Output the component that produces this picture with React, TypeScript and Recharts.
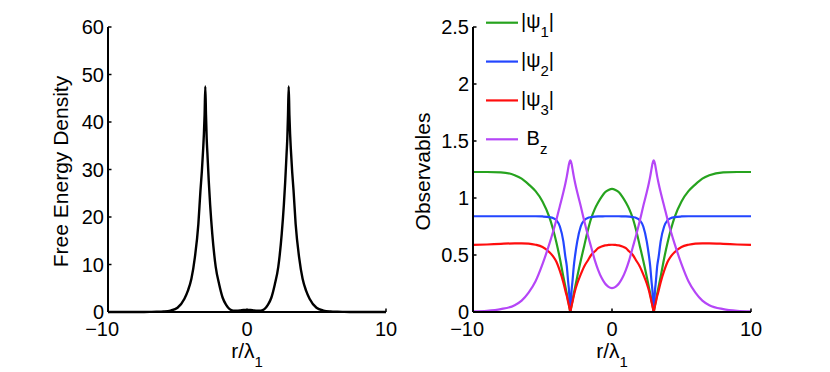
import React from 'react';
import { LineChart, Line, XAxis, YAxis, Legend } from 'recharts';

const rValues = [
  -10, -9, -8, -7, -6.5, -6, -5.5, -5, -4.5, -4.25, -4, -3.75, -3.5, -3.35, -3.25, -3.15, -3.1, -3.05, -3, -2.95,
  -2.9, -2.85, -2.75, -2.65, -2.5, -2.25, -2, -1.75, -1.5, -1.25, -1, -0.75, -0.5, -0.25,
  0,
  0.25, 0.5, 0.75, 1, 1.25, 1.5, 1.75, 2, 2.25, 2.5, 2.65, 2.75, 2.85, 2.9, 2.95, 3, 3.05, 3.1, 3.15, 3.25,
  3.35, 3.5, 3.75, 4, 4.25, 4.5, 5, 5.5, 6, 6.5, 7, 8, 9, 10,
];

const freeEnergy = [
  0, 0, 0, 0.02, 0.04, 0.1, 0.3, 0.9, 2.8, 4.5, 7.0, 11.5, 18.5, 25.5, 29.5, 34.5, 37.5, 41.5, 47.5, 41.5,
  36.5, 33.5, 27.5, 22.5, 16.5, 9.5, 5.8, 3.0, 1.5, 0.6, 0.3, 0.27, 0.32, 0.42,
  0.45,
  0.42, 0.32, 0.27, 0.3, 0.6, 1.5, 3.0, 5.8, 9.5, 16.5, 22.5, 27.5, 33.5, 36.5, 41.5, 47.5, 41.5, 37.5, 34.5, 29.5,
  25.5, 18.5, 11.5, 7.0, 4.5, 2.8, 0.9, 0.3, 0.1, 0.04, 0.02, 0, 0, 0,
];

const psi1 = [
  1.228, 1.228, 1.225, 1.2, 1.17, 1.12, 1.06, 0.97, 0.83, 0.73, 0.61, 0.47, 0.31, 0.22, 0.16, 0.095, 0.065, 0.033, 0, 0.033,
  0.065, 0.095, 0.16, 0.22, 0.31, 0.45, 0.58, 0.71, 0.82, 0.9, 0.96, 1.01, 1.05, 1.07,
  1.08,
  1.07, 1.05, 1.01, 0.96, 0.9, 0.82, 0.71, 0.58, 0.45, 0.31, 0.22, 0.16, 0.095, 0.065, 0.033, 0, 0.033, 0.065, 0.095, 0.16,
  0.22, 0.31, 0.47, 0.61, 0.73, 0.83, 0.97, 1.06, 1.12, 1.17, 1.2, 1.225, 1.228, 1.228,
];

const psi2 = [
  0.84, 0.84, 0.84, 0.84, 0.84, 0.84, 0.84, 0.838, 0.832, 0.825, 0.805, 0.75, 0.62, 0.48, 0.4, 0.26, 0.2, 0.1, 0, 0.1,
  0.2, 0.26, 0.4, 0.5, 0.62, 0.75, 0.805, 0.825, 0.832, 0.836, 0.838, 0.839, 0.84, 0.84,
  0.84,
  0.84, 0.84, 0.839, 0.838, 0.836, 0.832, 0.825, 0.805, 0.75, 0.62, 0.5, 0.4, 0.26, 0.2, 0.1, 0, 0.1, 0.2, 0.26, 0.4,
  0.48, 0.62, 0.75, 0.805, 0.825, 0.832, 0.838, 0.84, 0.84, 0.84, 0.84, 0.84, 0.84, 0.84,
];

const psi3 = [
  0.588, 0.592, 0.598, 0.602, 0.602, 0.6, 0.59, 0.57, 0.525, 0.49, 0.44, 0.36, 0.26, 0.185, 0.14, 0.085, 0.058, 0.03, 0, 0.03,
  0.058, 0.085, 0.14, 0.19, 0.25, 0.33, 0.4, 0.45, 0.5, 0.53, 0.56, 0.575, 0.585, 0.588,
  0.59,
  0.588, 0.585, 0.575, 0.56, 0.53, 0.5, 0.45, 0.4, 0.33, 0.25, 0.19, 0.14, 0.085, 0.058, 0.03, 0, 0.03, 0.058, 0.085, 0.14,
  0.185, 0.26, 0.36, 0.44, 0.49, 0.525, 0.57, 0.59, 0.6, 0.602, 0.602, 0.598, 0.592, 0.588,
];

const bz = [
  0.005, 0.01, 0.025, 0.06, 0.1, 0.17, 0.27, 0.42, 0.6, 0.7, 0.81, 0.93, 1.05, 1.13, 1.19, 1.26, 1.295, 1.318, 1.33, 1.318,
  1.295, 1.26, 1.19, 1.13, 1.05, 0.93, 0.8, 0.68, 0.57, 0.46, 0.37, 0.3, 0.25, 0.22,
  0.21,
  0.22, 0.25, 0.3, 0.37, 0.46, 0.57, 0.68, 0.8, 0.93, 1.05, 1.13, 1.19, 1.26, 1.295, 1.318, 1.33, 1.318, 1.295, 1.26, 1.19,
  1.13, 1.05, 0.93, 0.81, 0.7, 0.6, 0.42, 0.27, 0.17, 0.1, 0.06, 0.025, 0.01, 0.005,
];

const xTicks = [-10, 0, 10];
const leftYTicks = [0, 10, 20, 30, 40, 50, 60];
const rightYTicks = [0, 0.5, 1, 1.5, 2, 2.5];

const seriesKeys = ['psi1', 'psi2', 'psi3', 'bz'];
const seriesColors = ['#26a31e', '#2346ff', '#ff0d0d', '#b546f7'];
const legendMain = ['|\u03c8', '|\u03c8', '|\u03c8', '\u00a0B'];
const legendSub = ['1', '2', '3', 'z'];
const legendTail = ['|', '|', '|', ''];

const leftYTitle = 'Free Energy Density';
const rightYTitle = 'Observables';
const xTitleMain = 'r/\u03bb';
const xTitleSub = '1';

const data = rValues.map((r, i) => ({
  r,
  fe: freeEnergy[i],
  psi1: psi1[i],
  psi2: psi2[i],
  psi3: psi3[i],
  bz: bz[i],
}));

const FONT = '"Liberation Sans", Arial, Helvetica, sans-serif';
const TICK_FS = 20;
const TITLE_FS = 21;

const XTick = (props: any) => {
  const { x, y, payload } = props;
  const v = payload.value as number;
  const digits = String(Math.abs(v));
  const half = (digits.length * 0.556 * TICK_FS) / 2;
  const minusW = 0.584 * TICK_FS;
  const axisY = y - 10;
  return (
    <g>
      <line x1={x} x2={x} y1={axisY} y2={axisY - 3.5} stroke="#000" strokeWidth={1.5} />
      {v < 0 ? (
        <text x={x - half - minusW} y={y} dy="0.71em" textAnchor="start" fontSize={TICK_FS} fontFamily={FONT} fill="#000">
          {'\u2212' + digits}
        </text>
      ) : (
        <text x={x} y={y} dy="0.71em" textAnchor="middle" fontSize={TICK_FS} fontFamily={FONT} fill="#000">
          {digits}
        </text>
      )}
    </g>
  );
};

const YTick = (props: any) => {
  const { x, y, payload } = props;
  const axisX = x + 4;
  return (
    <g>
      <line x1={axisX} x2={axisX + 3.5} y1={y} y2={y} stroke="#000" strokeWidth={1.5} />
      <text x={x} y={y} dy="0.355em" textAnchor="end" fontSize={TICK_FS} fontFamily={FONT} fill="#000">
        {String(payload.value)}
      </text>
    </g>
  );
};

const YTitle = (props: any) => {
  const { viewBox, text, bx } = props;
  const cy = viewBox && typeof viewBox.y === 'number' ? viewBox.y + viewBox.height / 2 : 169.5;
  return (
    <text
      transform={`translate(${bx},${cy + 2}) rotate(-90)`}
      textAnchor="middle"
      fontSize={TITLE_FS}
      fontFamily={FONT}
      fill="#000"
    >
      {text}
    </text>
  );
};

const XTitle = (props: any) => {
  const { viewBox } = props;
  const cx = viewBox && typeof viewBox.x === 'number' ? viewBox.x + viewBox.width / 2 : 247;
  const by = viewBox && typeof viewBox.y === 'number' ? viewBox.y + 46 : 358;
  return (
    <text x={cx} y={by} textAnchor="middle" fontSize={TITLE_FS} fontFamily={FONT} fill="#000">
      {xTitleMain}
      <tspan fontSize={15} dy={8.5}>
        {xTitleSub}
      </tspan>
    </text>
  );
};

const renderLegend = () => (
  <svg width={120} height={160} style={{ display: 'block', overflow: 'visible' }}>
    {seriesKeys.map((k, i) => {
      const rowY = 22.7 + i * 38.87;
      return (
        <g key={k}>
          <line x1={0} x2={32} y1={rowY} y2={rowY} stroke={seriesColors[i]} strokeWidth={2.2} />
          <text x={35} y={rowY + 5.5} fontSize={20} fontFamily={FONT} fill="#000">
            {legendMain[i]}
            <tspan fontSize={15} dy={9}>
              {legendSub[i]}
            </tspan>
            {legendTail[i] ? <tspan dy={-9}>{legendTail[i]}</tspan> : null}
          </text>
        </g>
      );
    })}
  </svg>
);

const axisLineStyle = { stroke: '#000', strokeWidth: 2 };

export default function App() {
  return (
    <div
      style={{
        position: 'absolute',
        left: 0,
        top: 0,
        width: 830,
        height: 372,
        background: '#fff',
        display: 'flex',
      }}
    >
      <LineChart width={405} height={372} data={data} margin={{ top: 27, right: 19, bottom: 0, left: 0 }}>
        <XAxis
          dataKey="r"
          type="number"
          domain={[-10, 10]}
          ticks={xTicks}
          interval={0}
          tickSize={0}
          tickMargin={10}
          tickLine={false}
          axisLine={axisLineStyle}
          tick={(p: any) => <XTick {...p} />}
          height={60}
          label={<XTitle />}
        />
        <YAxis
          type="number"
          domain={[0, 60]}
          ticks={leftYTicks}
          interval={0}
          tickSize={0}
          tickMargin={4}
          tickLine={false}
          axisLine={axisLineStyle}
          tick={(p: any) => <YTick {...p} />}
          width={108}
          label={<YTitle text={leftYTitle} bx={68} />}
        />
        <Line
          type="monotone"
          dataKey="fe"
          stroke="#000"
          strokeWidth={2.4}
          dot={false}
          activeDot={false}
          isAnimationActive={false}
        />
      </LineChart>
      <LineChart width={425} height={372} data={data} margin={{ top: 27, right: 79, bottom: 0, left: 0 }}>
        <XAxis
          dataKey="r"
          type="number"
          domain={[-10, 10]}
          ticks={xTicks}
          interval={0}
          tickSize={0}
          tickMargin={10}
          tickLine={false}
          axisLine={axisLineStyle}
          tick={(p: any) => <XTick {...p} />}
          height={60}
          label={<XTitle />}
        />
        <YAxis
          type="number"
          domain={[0, 2.5]}
          ticks={rightYTicks}
          interval={0}
          tickSize={0}
          tickMargin={4}
          tickLine={false}
          axisLine={axisLineStyle}
          tick={(p: any) => <YTick {...p} />}
          width={68}
          label={<YTitle text={rightYTitle} bx={25} />}
        />
        <Legend
          layout="vertical"
          align="center"
          verticalAlign="middle"
          content={renderLegend}
          wrapperStyle={{ left: 81, top: 0, width: 120, height: 160 }}
        />
        {seriesKeys.map((k, i) => (
          <Line
            key={k}
            type="monotone"
            dataKey={k}
            stroke={seriesColors[i]}
            strokeWidth={2.2}
            dot={false}
            activeDot={false}
            isAnimationActive={false}
          />
        ))}
      </LineChart>
    </div>
  );
}
